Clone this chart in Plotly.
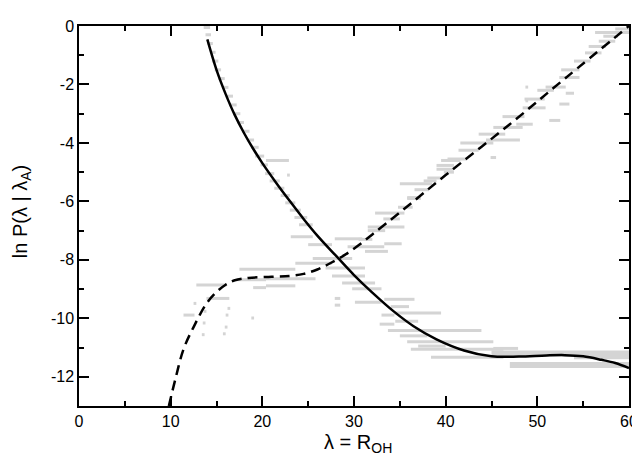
import plotly.graph_objects as go

# solid curve: ln P(lambda | lambda_A)
solid_x = [14.0, 15.0, 16.0, 17.0, 18.0, 19.0, 20.0, 21.5, 23.0, 24.5, 26.0, 28.0, 30.0, 32.0, 34.4,
           36.5, 39.0, 42.0, 45.0, 48.0, 51.0, 53.0, 55.0, 57.0, 58.5, 60.0]
solid_y = [-0.46, -1.5, -2.33, -3.05, -3.66, -4.2, -4.69, -5.36, -5.99, -6.6, -7.17, -7.85, -8.52, -9.12, -9.78,
           -10.27, -10.72, -11.1, -11.3, -11.31, -11.27, -11.26, -11.3, -11.42, -11.53, -11.7]

# dashed curve
dash_x = [9.8, 10.5, 11.4, 12.5, 13.9, 15.0, 16.0, 17.0, 18.5, 21.0, 23.0, 24.5, 26.0, 27.5, 29.0,
          30.5, 32.0, 35.0, 40.0, 47.0, 53.0, 60.0]
dash_y = [-13.0, -12.1, -11.06, -10.3, -9.5, -9.1, -8.85, -8.7, -8.62, -8.58, -8.55, -8.48, -8.33, -8.1, -7.83,
          -7.5, -7.13, -6.38, -5.1, -3.36, -1.8, 0.0]

# gray histogram segments (y level, x start, x end)
seg_y = [-0.05, -0.3, -0.6, -0.9, -1.2, -1.5, -1.8, -2.1, -2.4, -2.7, -3.0, -3.3, -3.6, -3.9, -4.15,
         -4.45, -4.6, -4.75, -5.05, -5.1, -5.3, -5.55, -5.8, -6.05, -6.3, -6.55, -6.8,
         -7.21, -7.28, -7.48, -7.55, -7.71, -7.95, -8.12, -8.28, -8.32, -8.55, -8.65, -8.68,
         -8.79, -8.86, -8.89, -8.95, -8.99, -9.32, -9.45, -9.55, -9.89, -10.2,
         -6.88, -7.45, -6.4, -6.6, -7.0, -7.3,
         -9.35, -9.6, -9.82, -10.1, -10.42, -10.6, -10.8, -10.95, -11.03, -11.06, -11.33,
         -0.22, -0.52, -0.92, -1.76, -2.09, -2.3, -2.67, -2.8, -3.23, -3.36, -3.47, -3.9, -4.0,
         -4.5, -4.6, -4.77, -5.0, -5.2, -5.4, -5.87, -2.09, -2.56,
         -6.2, -5.9, -5.6, -5.3, -4.9, -4.55, -4.25, -3.7, -3.1, -2.5, -2.2, -1.5, -1.2, -0.7, -0.35, -0.1,
         -9.32, -9.89, -9.49, -9.76, -9.66, -9.89, -10.16, -10.3, -10.56, -10.53, -9.99]
seg_x0 = [13.6, 13.8, 14.0, 14.3, 14.5, 14.8, 15.2, 15.6, 16.0, 16.4, 16.8, 17.3, 17.8, 18.3, 18.8,
          19.2, 20.4, 19.8, 20.3, 22.7, 20.8, 21.3, 22.0, 22.5, 23.0, 23.5, 24.0,
          23.1, 27.9, 25.0, 29.3, 31.2, 25.5, 23.6, 26.9, 17.5, 27.6, 20.4, 17.2,
          28.7, 12.8, 20.4, 19.0, 29.8, 13.9, 30.1, 27.9, 33.0, 32.8,
          31.5, 33.3, 32.3, 33.2, 31.5, 30.5,
          33.3, 34.0, 34.4, 34.5, 33.7, 35.0, 35.8, 37.0, 45.2, 36.2, 38.4,
          56.3, 56.7, 55.2, 52.4, 50.9, 53.1, 52.4, 48.4, 51.3, 47.7, 45.2, 44.4, 41.6,
          44.9, 39.5, 39.0, 39.8, 38.0, 35.0, 35.8, 48.7, 48.7,
          34.8, 35.8, 36.6, 37.6, 39.0, 40.2, 41.4, 43.6, 46.2, 48.6, 50.0, 52.6, 54.0, 55.6, 57.2, 58.5,
          27.9, 11.4, 12.5, 13.6, 16.2, 16.0, 13.5, 15.9, 13.4, 15.7, 18.8]
seg_x1 = [14.3, 14.4, 14.6, 14.9, 15.2, 15.5, 15.9, 16.3, 16.8, 17.2, 17.6, 18.0, 18.6, 19.1, 19.6,
          20.2, 22.9, 20.6, 21.3, 23.0, 21.9, 22.4, 23.0, 23.6, 24.2, 24.9, 25.5,
          25.5, 30.9, 27.6, 33.3, 33.7, 29.8, 27.6, 31.2, 23.6, 31.2, 25.8, 20.4,
          32.3, 16.1, 23.6, 20.4, 33.0, 16.4, 33.0, 28.5, 34.4, 34.4,
          35.5, 35.2, 35.5, 35.0, 33.4, 32.0,
          36.6, 36.0, 39.5, 37.0, 43.9, 38.0, 45.2, 40.0, 47.9, 46.3, 46.3,
          60.0, 58.5, 57.0, 54.6, 53.1, 54.0, 53.5, 50.9, 52.5, 49.5, 48.4, 48.1, 45.2,
          45.5, 41.6, 40.9, 40.9, 39.5, 38.5, 37.3, 49.0, 49.0,
          36.4, 37.3, 38.2, 39.0, 40.8, 42.3, 43.6, 46.5, 48.6, 50.8, 51.8, 54.6, 55.8, 57.5, 58.8, 60.0,
          28.5, 12.6, 12.8, 13.9, 16.5, 16.3, 13.8, 16.2, 13.7, 16.0, 19.1]

# broader gray bands at the bottom right
band_y = [-11.2, -11.6, -11.3]
band_x0 = [45.0, 47.0, 54.0]
band_x1 = [60.0, 60.0, 60.0]

# tick labels
x_ticks = [0, 10, 20, 30, 40, 50, 60]
y_ticks = [-12, -10, -8, -6, -4, -2, 0]
y_ticktext = ['-12', '-10', '-8', '-6', '-4', '-2', '0']

FONT = 'Liberation Sans, Arial, sans-serif'


def segments(ys, x0s, x1s):
    xs, yy = [], []
    for y, a, b in zip(ys, x0s, x1s):
        xs += [a, b, None]
        yy += [y, y, None]
    return xs, yy


fig = go.Figure()

gx, gy = segments(seg_y, seg_x0, seg_x1)
fig.add_trace(go.Scatter(x=gx, y=gy, mode='lines', line=dict(color='#d4d4d4', width=3),
                         hoverinfo='skip', showlegend=False))
bx, by = segments(band_y, band_x0, band_x1)
fig.add_trace(go.Scatter(x=bx, y=by, mode='lines', line=dict(color='#d4d4d4', width=6),
                         hoverinfo='skip', showlegend=False))

fig.add_trace(go.Scatter(x=dash_x, y=dash_y, mode='lines', showlegend=False,
                         line=dict(color='black', width=2.5, dash='10px,6px', shape='spline', smoothing=1.0)))
fig.add_trace(go.Scatter(x=solid_x, y=solid_y, mode='lines', showlegend=False,
                         line=dict(color='black', width=2.5, shape='spline', smoothing=1.0)))

axis_style = dict(showline=True, linecolor='black', linewidth=1.5, mirror='ticks',
                  ticks='inside', ticklen=10, tickwidth=1.5, tickcolor='black',
                  showgrid=False, zeroline=False,
                  tickfont=dict(family=FONT, size=16, color='black'))

fig.update_xaxes(range=[0, 60], tickvals=x_ticks,
                 minor=dict(ticks='inside', ticklen=5, dtick=5, tickcolor='black', tickwidth=1.5),
                 **axis_style)
fig.update_yaxes(range=[-13, 0], tickvals=y_ticks, ticktext=y_ticktext,
                 minor=dict(ticks='inside', ticklen=5, dtick=1, tickcolor='black', tickwidth=1.5),
                 **axis_style)

# axis titles placed as annotations
fig.add_annotation(text='λ = R<sub>OH</sub>', xref='paper', yref='paper', x=0.507, y=-0.134,
                   xanchor='center', yanchor='bottom', showarrow=False, borderpad=0,
                   font=dict(family=FONT, size=20, color='black'))
fig.add_annotation(text='ln P(λ | λ<sub>A</sub>)', xref='paper', yref='paper', x=0, xshift=-58, y=0.51,
                   xanchor='center', yanchor='middle', textangle=-90, showarrow=False,
                   font=dict(family=FONT, size=20, color='black'))

fig.update_layout(width=640, height=457, margin=dict(l=71, r=13, t=10, b=59),
                  plot_bgcolor='white', paper_bgcolor='white')

fig.write_html("out.html")
